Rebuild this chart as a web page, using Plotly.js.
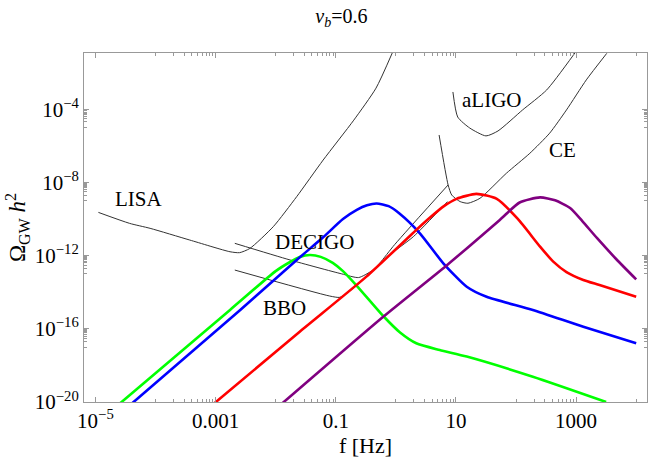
<!DOCTYPE html>
<html>
<head>
<meta charset="utf-8">
<script src="https://cdn.plot.ly/plotly-3.0.1.min.js"></script>
<style>
  html, body { margin: 0; padding: 0; background: #fff; }
  #grafica { width: 654px; height: 462px; }
</style>
</head>
<body>
<div id="grafica"></div>
<script>
// valores, en log10 (f en Hz, Omega_GW h^2)
var greenLogF  = [-4.6, -2.76, -2.0, -1.76, -1.6, -1.43, -1.25, -1.05, -0.88, -0.65, -0.21, 0.07, 0.34, 0.73, 1.18, 2.28, 3.5];
var greenLogOm = [-20.1, -14.97, -12.85, -12.35, -12.08, -11.97, -12.07, -12.4, -12.85, -13.65, -15.3, -16.2, -16.79, -17.16, -17.52, -18.62, -20.0];

var blueLogF  = [-4.4, -2.59, -1.65, -1.21, -0.88, -0.65, -0.48, -0.32, -0.12, 0.06, 0.40, 0.79, 1.18, 1.51, 2.28, 3.12, 4.0];
var blueLogOm = [-20.1, -14.97, -12.24, -11.0, -10.0, -9.5, -9.25, -9.15, -9.3, -9.7, -10.78, -12.42, -13.70, -14.25, -14.97, -15.89, -16.79];

var redLogF  = [-3.05, -1.60, -0.49, 0.34, 0.56, 0.8, 1.01, 1.34, 1.68, 2.03, 2.40, 2.62, 2.84, 3.12, 3.39, 4.0];
var redLogOm = [-20.15, -16.16, -13.15, -10.60, -9.95, -9.3, -8.9, -8.63, -8.9, -10.0, -11.51, -12.33, -12.9, -13.33, -13.61, -14.25];

var purpleLogF  = [-1.9, -0.21, 0.84, 1.73, 2.06, 2.40, 2.65, 2.9, 3.1, 3.35, 3.67, 4.0];
var purpleLogOm = [-20.1, -15.34, -12.55, -10.05, -9.1, -8.82, -8.98, -9.4, -10.1, -11.05, -12.2, -13.3];

var lisaLogF  = [-4.95, -4.43, -4.09, -3.43, -2.76, -2.60, -2.43, -2.04, -1.65, -1.21, -0.70, -0.33, -0.06];
var lisaLogOm = [-9.64, -10.24, -10.51, -11.15, -11.79, -11.84, -11.61, -10.42, -8.78, -6.78, -4.6, -2.85, -0.93];

var decigoLogF  = [-2.68, -1.76, -0.90, -0.62, -0.38, -0.10, 0.29, 0.86];
var decigoLogOm = [-11.33, -12.24, -13.0, -13.2, -12.79, -11.95, -10.97, -9.05];

var bboLogF  = [-2.68, -1.10, -0.93, -0.71, -0.49, -0.27, -0.02, 0.87];
var bboLogOm = [-12.79, -14.21, -14.28, -13.79, -13.15, -12.42, -11.4, -8.14];

var aligoLogF  = [0.95, 1.03, 1.23, 1.50, 1.70, 2.11, 2.51, 2.98];
var aligoLogOm = [-3.06, -4.43, -5.03, -5.46, -5.19, -4.04, -2.95, -0.93];

var ceLogF  = [0.72, 0.87, 0.93, 1.07, 1.20, 1.40, 1.84, 2.23, 2.56, 2.84, 3.17, 3.51];
var ceLogOm = [-5.41, -8.14, -8.69, -9.05, -9.14, -8.87, -7.50, -6.41, -5.31, -4.04, -2.40, -0.95];

var etiquetas   = ['LISA', 'DECIGO', 'BBO', 'aLIGO', 'CE'];
var etiquetaLogF  = [-4.27, -1.35, -1.86, 1.59, 2.78];
var etiquetaLogOm = [-8.92, -11.24, -14.86, -3.50, -6.23];

var xTickVals = [1e-5, 1e-3, 1e-1, 10, 1000];
var xTickText = ['10<sup>\u22125</sup>', '0.001', '0.1', '10', '1000'];
var yTickExp  = [-20, -16, -12, -8, -4];

function pot(arr) { return arr.map(function(v) { return Math.pow(10, v); }); }

function curva(lf, lo, color, ancho) {
  return {
    x: pot(lf), y: pot(lo), type: 'scatter', mode: 'lines',
    line: { color: color, width: ancho, shape: 'spline', smoothing: 0.6 },
    hoverinfo: 'skip', showlegend: false
  };
}

// ticks menores al estilo Mathematica
var xMinor = [];
[-4, -2, 0, 2, 4].forEach(function(d) { xMinor.push(Math.pow(10, d)); });
[-4, -2, 0, 2].forEach(function(d) {
  for (var k = 2; k <= 9; k++) xMinor.push(k * Math.pow(10, d));
});
var yMinor = [];
yTickExp.forEach(function(d) {
  for (var k = 1; k <= 9; k++) yMinor.push(k * Math.pow(10, d - 1));
});

var datos = [
  curva(lisaLogF, lisaLogOm, '#333', 1),
  curva(decigoLogF, decigoLogOm, '#333', 1),
  curva(bboLogF, bboLogOm, '#333', 1),
  curva(aligoLogF, aligoLogOm, '#333', 1),
  curva(ceLogF, ceLogOm, '#333', 1),
  curva(greenLogF, greenLogOm, '#00ff00', 2.6),
  curva(blueLogF, blueLogOm, '#0000ff', 2.6),
  curva(redLogF, redLogOm, '#ff0000', 2.6),
  curva(purpleLogF, purpleLogOm, '#800080', 2.6)
];

var serif = "'Liberation Serif', 'Times New Roman', serif";

var anotaciones = etiquetas.map(function(t, i) {
  return {
    text: t, x: etiquetaLogF[i], y: etiquetaLogOm[i], xref: 'x', yref: 'y',
    showarrow: false, font: { family: serif, size: 21, color: '#000' }
  };
});

var layout = {
  width: 654, height: 462,
  margin: { l: 84, r: 7, t: 53, b: 60 },
  paper_bgcolor: '#fff', plot_bgcolor: '#fff',
  title: {
    text: '<i>v</i><sub><i>b</i></sub>=0.6',
    font: { family: serif, size: 20, color: '#000' },
    x: 0.522, xref: 'container', xanchor: 'center',
    y: 0.965, yref: 'container', yanchor: 'middle'
  },
  xaxis: {
    type: 'log', range: [-5.19, 4.18],
    showgrid: false, zeroline: false,
    showline: true, linecolor: '#999', linewidth: 1, mirror: 'ticks',
    ticks: 'inside', ticklen: 5, tickcolor: '#999',
    tickmode: 'array', tickvals: xTickVals, ticktext: xTickText,
    tickfont: { family: serif, size: 21, color: '#000' },
    minor: { tickmode: 'array', tickvals: xMinor, ticks: 'inside', ticklen: 3, tickcolor: '#999', showgrid: false },
    title: { text: 'f [Hz]', font: { family: serif, size: 22, color: '#000' }, standoff: 2 }
  },
  yaxis: {
    type: 'log', range: [-20, -0.93],
    showgrid: false, zeroline: false,
    showline: true, linecolor: '#999', linewidth: 1, mirror: 'ticks',
    ticks: 'inside', ticklen: 5, tickcolor: '#999',
    tickmode: 'array',
    tickvals: yTickExp.map(function(d) { return Math.pow(10, d); }),
    ticktext: yTickExp.map(function(d) { return '10<sup>\u2212' + (-d) + '</sup>'; }),
    tickfont: { family: serif, size: 21, color: '#000' },
    minor: { tickmode: 'array', tickvals: yMinor, ticks: 'inside', ticklen: 3, tickcolor: '#999', showgrid: false },
    title: { text: '\u03a9<sub>GW</sub> <i>h</i><sup>2</sup>', font: { family: serif, size: 23, color: '#000' }, standoff: 2 }
  },
  annotations: anotaciones
};

Plotly.newPlot('grafica', datos, layout, { displayModeBar: false, staticPlot: true });
</script>
</body>
</html>
